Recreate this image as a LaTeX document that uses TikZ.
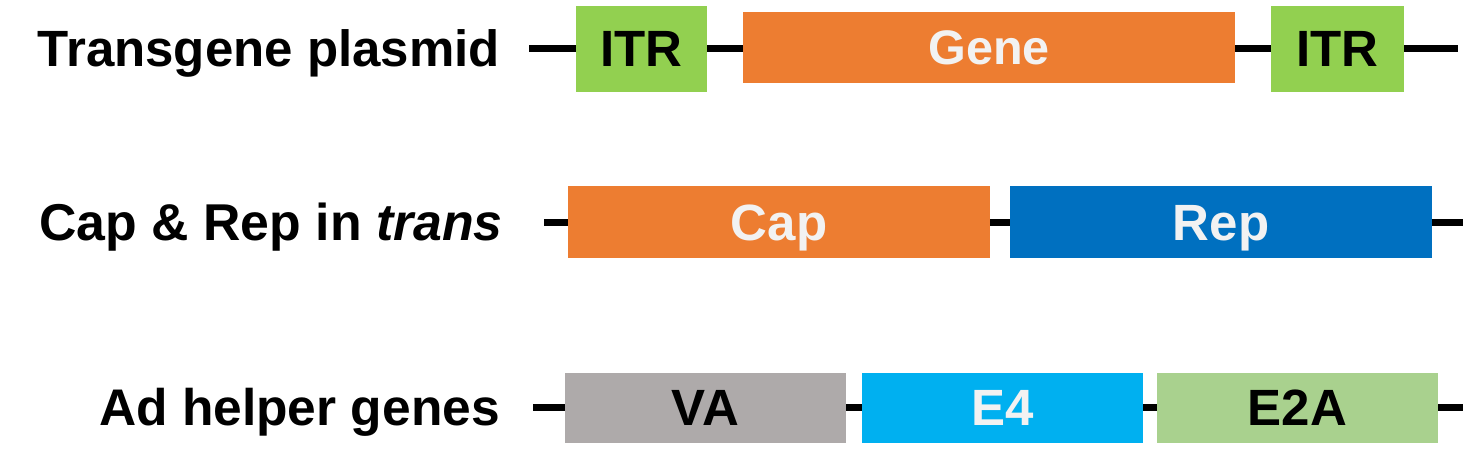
\documentclass[tikz,border=0pt]{standalone}
\usepackage{fontspec}
\setmainfont{Liberation Sans}
\definecolor{itrgreen}{HTML}{92D050}
\definecolor{geneorange}{HTML}{ED7D31}
\definecolor{repblue}{HTML}{0070C0}
\definecolor{vagrey}{HTML}{AEAAAA}
\definecolor{efourblue}{HTML}{00B0F0}
\definecolor{etwogreen}{HTML}{A9D18E}
\definecolor{lighttext}{HTML}{F2F2F2}
\tikzset{
  rowlabel/.style={anchor=east, inner sep=0pt, font=\fontsize{51}{51}\selectfont\bfseries, text height=36.5pt, text depth=0pt},
  seg/.style={inner sep=0pt, draw=none, font=\fontsize{51}{51}\selectfont\bfseries, text height=36.5pt, text depth=0pt},
  dna/.style={line width=7pt, black},
}
\begin{document}
\begin{tikzpicture}[x=1pt,y=-1pt]
\useasboundingbox (0,0) rectangle (1468,471);
% Row 1
\node[rowlabel] (l1) at (500,48.5) {Transgene plasmid};
\coordinate (r1s) at (529,48.5);
\coordinate (r1e) at (1458,48.5);
\node[seg, fill=itrgreen, minimum width=131pt, minimum height=86pt, text=black] (itr1) at (641.5,48.5) {ITR};
\node[seg, fill=geneorange, minimum width=492pt, minimum height=71pt, text=lighttext, font=\fontsize{48.5}{48.5}\selectfont\bfseries, text height=34.7pt] (gene) at (989,47.5) {Gene};
\node[seg, fill=itrgreen, minimum width=133pt, minimum height=86pt, text=black] (itr2) at (1337.5,48.5) {ITR};
\draw[dna] (r1s) -- (itr1.west);
\draw[dna] (itr1.east) -- (gene.west |- itr1.east);
\draw[dna] (gene.east |- itr2.west) -- (itr2.west);
\draw[dna] (itr2.east) -- (r1e);
% Row 2
\node[rowlabel, font=\fontsize{51.8}{51.8}\selectfont\bfseries, text height=37.1pt] (l2) at (503,222) {Cap \& Rep in \textit{trans}};
\coordinate (r2s) at (544,222);
\coordinate (r2e) at (1463,222);
\node[seg, fill=geneorange, minimum width=422pt, minimum height=72pt, text=lighttext] (cap) at (779,222) {Cap};
\node[seg, fill=repblue, minimum width=422pt, minimum height=72pt, text=lighttext] (rep) at (1221,222) {Rep};
\draw[dna] (r2s) -- (cap.west);
\draw[dna] (cap.east) -- (rep.west);
\draw[dna] (rep.east) -- (r2e);
% Row 3
\node[rowlabel, font=\fontsize{51.5}{51.5}\selectfont\bfseries, text height=36.9pt] (l3) at (500,407.5) {Ad helper genes};
\coordinate (r3s) at (533,407.5);
\coordinate (r3e) at (1463,407.5);
\node[seg, fill=vagrey, minimum width=281pt, minimum height=70pt, text=black] (va) at (705.5,407.5) {VA};
\node[seg, fill=efourblue, minimum width=281pt, minimum height=70pt, text=lighttext] (e4) at (1002.5,407.5) {E4};
\node[seg, fill=etwogreen, minimum width=281pt, minimum height=70pt, text=black] (e2a) at (1297.5,407.5) {E2A};
\draw[dna] (r3s) -- (va.west);
\draw[dna] (va.east) -- (e4.west);
\draw[dna] (e4.east) -- (e2a.west);
\draw[dna] (e2a.east) -- (r3e);
\end{tikzpicture}
\end{document}
